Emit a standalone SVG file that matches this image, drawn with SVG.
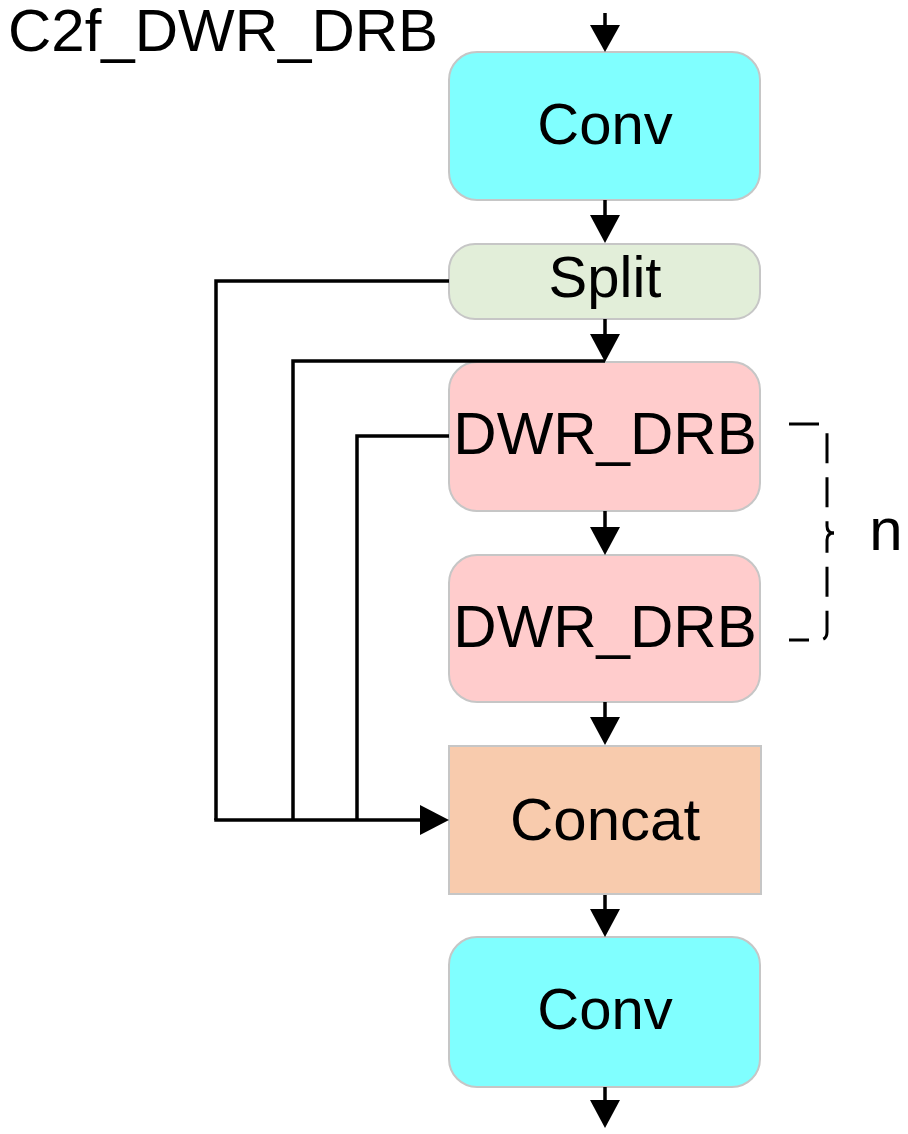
<svg xmlns="http://www.w3.org/2000/svg" width="908" height="1134" viewBox="0 0 908 1134">
<style>
  .node { stroke: #c6c6c6; stroke-width: 2; }
  .lbl { font-family: "Liberation Sans", Arial, sans-serif; font-size: 60px; fill: #000; text-anchor: middle; }
  .wire { fill: none; stroke: #000; stroke-width: 3.5; }
  .head { fill: #000; stroke: none; }
  .brace { fill: none; stroke: #000; stroke-width: 3; stroke-dasharray: 30 14; }
</style>
<rect width="908" height="1134" fill="#ffffff"/>
<text x="8" y="51" class="lbl" style="text-anchor:start">C2f_DWR_DRB</text>

<g id="conv1">
  <rect class="node" x="449" y="52" width="311" height="148" rx="28" fill="#80ffff"/>
  <text class="lbl" x="605" y="144" style="font-size:58px">Conv</text>
</g>
<g id="split">
  <rect class="node" x="449" y="244" width="311" height="75" rx="26" fill="#e2eed9"/>
  <text class="lbl" x="605" y="297" style="font-size:58px">Split</text>
</g>
<g id="dwr1">
  <rect class="node" x="449" y="362" width="311" height="149" rx="28" fill="#ffcccc"/>
  <text class="lbl" x="605" y="454">DWR_DRB</text>
</g>
<g id="dwr2">
  <rect class="node" x="449" y="555" width="311" height="147" rx="28" fill="#ffcccc"/>
  <text class="lbl" x="605" y="647">DWR_DRB</text>
</g>
<g id="concat">
  <rect class="node" x="449" y="746" width="312" height="148" fill="#f8cbad"/>
  <text class="lbl" x="605" y="840">Concat</text>
</g>
<g id="conv2">
  <rect class="node" x="449" y="937" width="311" height="150" rx="28" fill="#80ffff"/>
  <text class="lbl" x="605" y="1029" style="font-size:58px">Conv</text>
</g>
<g id="repeat">
  <path class="brace" d="M789,424 H819 Q827,424 827,432 V526 Q827,533 834,533"/>
  <path class="brace" style="stroke-dashoffset:10" d="M789,640 H819 Q827,640 827,632 V540 Q827,533 834,533"/>
  <text class="lbl" x="886" y="550">n</text>
</g>

<g id="connectors">
  <path class="wire" d="M605,13 V27 M605,200 V216 M605,319 V335 M605,511 V528 M605,702 V718 M605,895 V910 M605,1087 V1101"/>
  <polygon class="head" points="590,25 620,25 605,52"/>
  <polygon class="head" points="590,215 620,215 605,243"/>
  <polygon class="head" points="590,334 620,334 605,362"/>
  <polygon class="head" points="590,527 620,527 605,555"/>
  <polygon class="head" points="590,717 620,717 605,745"/>
  <polygon class="head" points="590,909 620,909 605,937"/>
  <polygon class="head" points="590,1100 620,1100 605,1128"/>
  <path class="wire" d="M449,281 H216 V820"/>
  <path class="wire" d="M605,361 H293 V820"/>
  <path class="wire" d="M449,436 H357 V820"/>
  <path class="wire" d="M214.25,820 H422"/>
  <polygon class="head" points="420,805 420,835 449,820"/>
</g>
</svg>
